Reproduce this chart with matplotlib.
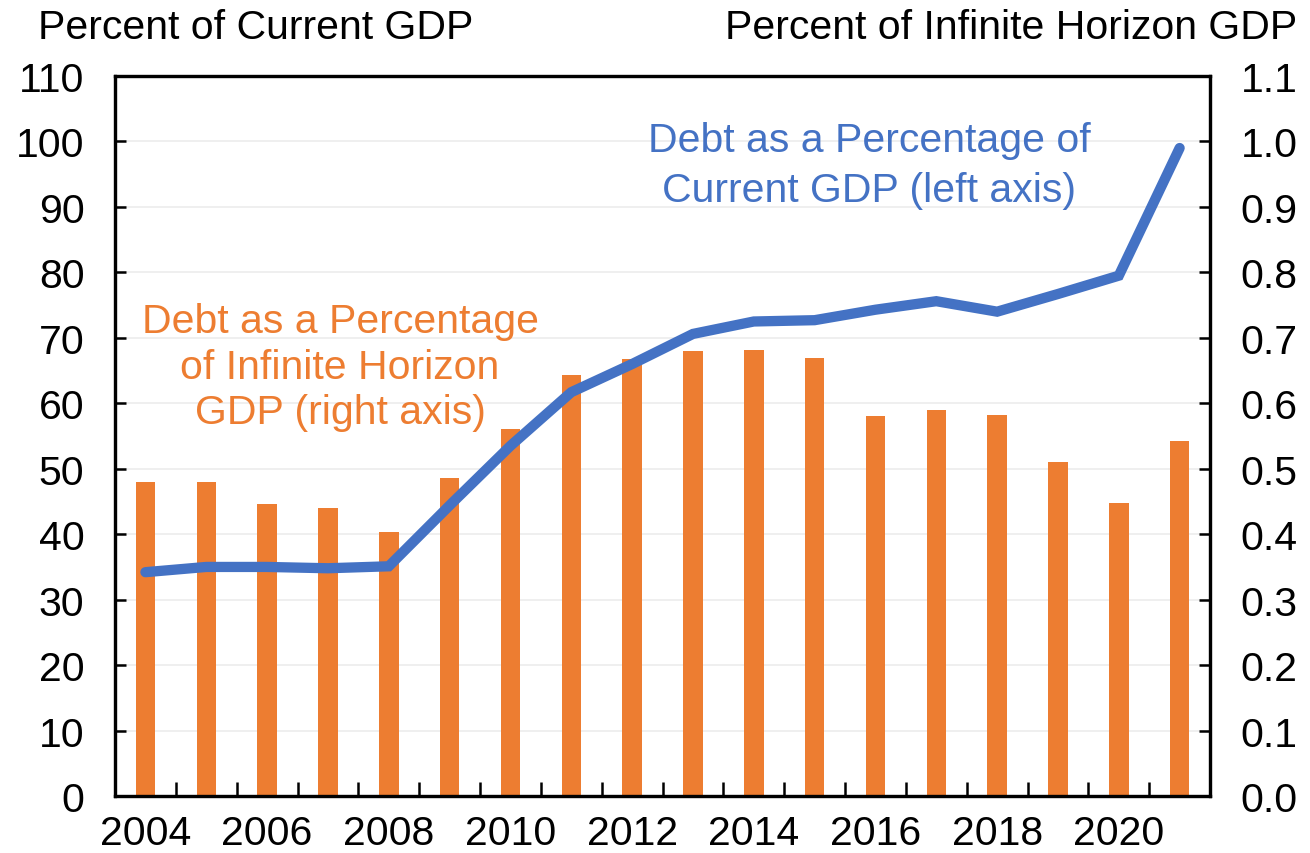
import numpy as np
import matplotlib
matplotlib.use("Agg")
import matplotlib.pyplot as plt
from matplotlib.ticker import MultipleLocator, FixedLocator, FormatStrFormatter

plt.rcParams['font.family'] = ['Liberation Sans', 'DejaVu Sans']

years = list(range(2004, 2022))
# debt as % of current GDP (left axis)
debt_current = [34.2, 35.0, 35.0, 34.8, 35.1, 44.4, 53.5, 61.7, 66.0, 70.6,
                72.5, 72.7, 74.3, 75.6, 74.0, 76.7, 79.5, 99.0]
# debt as share of infinite horizon GDP (right axis)
debt_inf = [0.480, 0.480, 0.446, 0.440, 0.403, 0.486, 0.560, 0.643, 0.667, 0.680,
            0.682, 0.669, 0.580, 0.590, 0.582, 0.510, 0.448, 0.543]
year_labels = [str(y) if y % 2 == 0 else '' for y in years]

blue = '#4472C4'
orange = '#ED7D31'
fs = 29.5

fig = plt.figure(figsize=(13.1, 8.54), dpi=100)
ax = fig.add_axes([0.0878, 0.0667, 0.8359, 0.8431])
ax2 = ax.twinx()
ax.set_zorder(ax2.get_zorder() + 1)
ax.patch.set_visible(False)

x = np.arange(len(years))
ax2.bar(x, debt_inf, width=0.32, color=orange, zorder=2)
ax2.set_ylim(0, 1.1)
ax2.yaxis.set_major_locator(MultipleLocator(0.1))
ax2.yaxis.set_major_formatter(FormatStrFormatter('%.1f'))
ax2.set_axisbelow(True)
ax2.grid(axis='y', color='#ececec', linewidth=1.2, zorder=0)

ax.plot(x, debt_current, color=blue, linewidth=7.4, solid_capstyle='round',
        solid_joinstyle='miter', zorder=3)
ax.set_ylim(0, 110)
ax.yaxis.set_major_locator(MultipleLocator(10))
ax.set_xlim(-0.5, len(years) - 0.5)
ax.set_xticks(x)
ax.set_xticklabels(year_labels)
ax.xaxis.set_minor_locator(FixedLocator(np.arange(0.5, len(years) - 1, 1.0)))

for a in (ax, ax2):
    for s in a.spines.values():
        s.set_linewidth(2.3)
        s.set_color('black')

ax.tick_params(axis='x', which='major', length=0, pad=13, labelsize=fs)
ax.tick_params(axis='x', which='minor', direction='in', length=10, width=1.8)
ax.tick_params(axis='y', direction='in', length=8, width=1.8, pad=22, labelsize=fs)
ax2.tick_params(axis='y', direction='in', length=8, width=1.8, pad=22, labelsize=fs)

fig.text(38 / 1310, 1 - 28 / 854, 'Percent of Current GDP', fontsize=fs,
         ha='left', va='center')
fig.text(1297 / 1310, 1 - 28 / 854, 'Percent of Infinite Horizon GDP', fontsize=fs,
         ha='right', va='center')

ax.text(11.9, 96.4, 'Debt as a Percentage of\nCurrent GDP (left axis)', color=blue,
        fontsize=fs, ha='center', va='center', linespacing=1.38)
ax.text(3.2, 65.6, 'Debt as a Percentage\nof Infinite Horizon\nGDP (right axis)',
        color=orange, fontsize=fs, ha='center', va='center', linespacing=1.25)

fig.savefig('out.png', dpi=100)
